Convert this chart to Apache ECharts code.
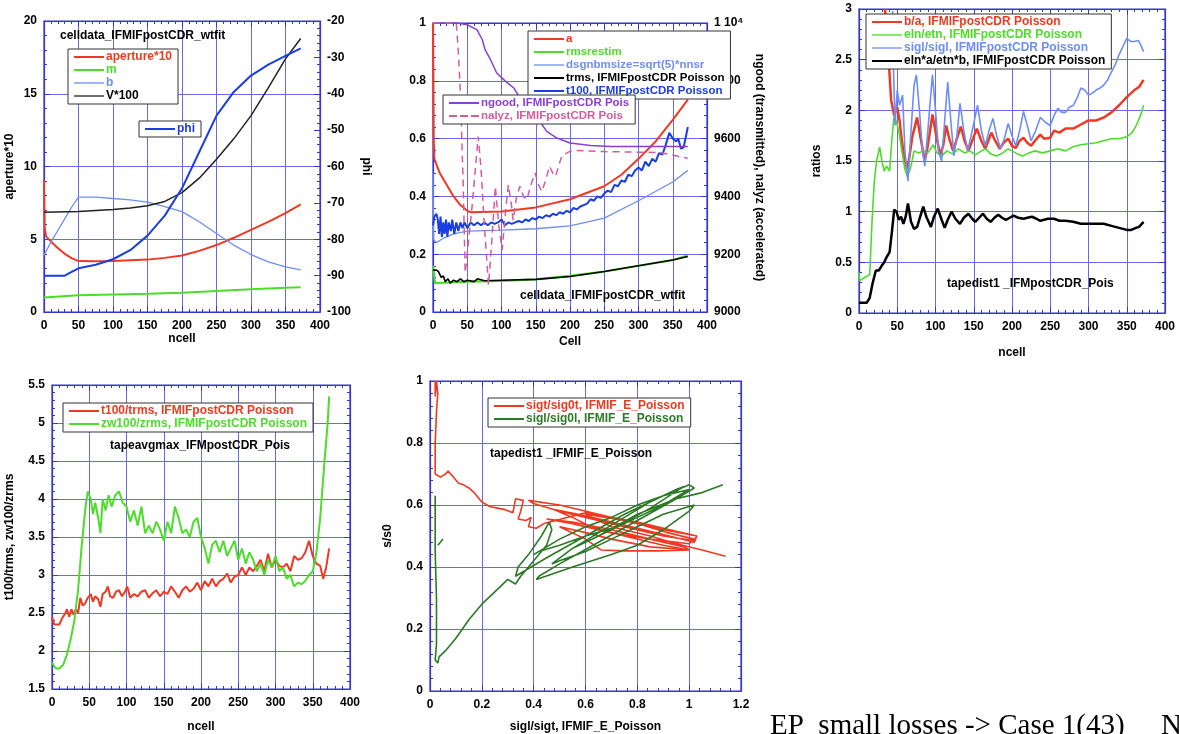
<!DOCTYPE html>
<html><head><meta charset="utf-8">
<script src="https://cdn.jsdelivr.net/npm/echarts@6/dist/echarts.min.js"></script>
<style>html,body{margin:0;padding:0;background:#fff}#c{width:1179px;height:734px}</style>
</head><body><div id="c"></div>
<script>
// ---------- Panel 1: celldata ----------
const p1Aperture = [[0,9.1],[1,5.8],[3,5.2],[10,4.85],[20,4.4],[30,4.0],[40,3.7],[50,3.5],[75,3.48],[100,3.5],[125,3.55],[150,3.6],[175,3.72],[200,3.88],[225,4.2],[250,4.6],[275,5.1],[300,5.65],[325,6.2],[350,6.8],[372,7.4]];
const p1M = [[0,1.0],[50,1.15],[100,1.2],[150,1.25],[200,1.32],[250,1.45],[300,1.57],[350,1.66],[372,1.7]];
const p1B = [[0,3.9],[10,4.8],[20,5.6],[30,6.4],[40,7.2],[50,7.9],[75,7.9],[100,7.8],[125,7.7],[150,7.55],[175,7.25],[200,6.9],[225,6.2],[250,5.4],[275,4.6],[300,3.95],[325,3.45],[350,3.1],[372,2.9]];
const p1V = [[0,6.85],[50,6.9],[100,7.05],[125,7.15],[150,7.3],[175,7.6],[200,8.2],[225,9.2],[250,10.5],[275,11.9],[300,13.5],[325,15.4],[350,17.4],[372,18.8]];
const p1Phi = [[0,-90],[30,-90],[40,-89],[50,-88],[75,-87],[100,-85.5],[125,-83],[150,-79],[175,-73.5],[200,-66],[225,-56],[250,-46],[275,-39.5],[300,-35],[325,-32],[350,-29.6],[372,-27.5]];

// ---------- Panel 2: celldata (Cell) ----------
const p2A = [[0,1.0],[1,0.6],[2,0.53],[10,0.48],[20,0.44],[30,0.40],[40,0.37],[50,0.35],[55,0.345],[100,0.348],[150,0.362],[200,0.39],[250,0.435],[275,0.475],[300,0.53],[325,0.59],[350,0.665],[372,0.735]];
const p2Rms = [[0,0.16],[3,0.1],[25,0.102],[50,0.105],[100,0.108],[150,0.113],[200,0.125],[250,0.14],[300,0.16],[350,0.18],[372,0.195]];
const p2Dsgn = [[0,0.48],[1,0.25],[5,0.24],[15,0.255],[30,0.27],[50,0.28],[100,0.283],[150,0.288],[200,0.298],[250,0.325],[300,0.385],[350,0.45],[372,0.49]];
const p2Trms = [[0,0.145],[5,0.145],[8,0.14],[12,0.12],[15,0.125],[18,0.105],[22,0.115],[25,0.1],[30,0.11],[35,0.105],[40,0.115],[45,0.105],[50,0.11],[60,0.105],[65,0.115],[75,0.108],[100,0.11],[150,0.113],[200,0.123],[250,0.14],[300,0.16],[350,0.18],[372,0.192]];
const p2T100 = [[0,0.3],[2,0.33],[5,0.34],[7,0.32],[9,0.27],[11,0.33],[13,0.26],[15,0.31],[17,0.27],[19,0.32],[21,0.26],[23,0.31],[26,0.28],[28,0.32],[31,0.27],[34,0.31],[37,0.28],[40,0.31],[43,0.29],[46,0.31],[50,0.29],[55,0.31],[60,0.3],[65,0.31],[70,0.3],[75,0.31],[80,0.3],[85,0.31],[90,0.305],[95,0.31],[100,0.32],[105,0.3],[110,0.31],[115,0.305],[120,0.31],[125,0.315],[130,0.31],[135,0.32],[140,0.315],[145,0.325],[150,0.32],[155,0.33],[160,0.325],[165,0.335],[170,0.33],[175,0.34],[180,0.335],[185,0.345],[190,0.34],[195,0.35],[200,0.345],[205,0.36],[210,0.355],[215,0.365],[220,0.37],[225,0.375],[230,0.39],[235,0.385],[240,0.4],[245,0.395],[250,0.41],[255,0.42],[260,0.415],[265,0.44],[270,0.435],[275,0.455],[280,0.45],[285,0.475],[290,0.47],[295,0.49],[300,0.5],[305,0.49],[310,0.52],[315,0.505],[320,0.53],[325,0.52],[330,0.55],[335,0.545],[340,0.58],[345,0.62],[350,0.6],[355,0.59],[358,0.6],[362,0.565],[366,0.57],[372,0.64]];
const p2Ngood = [[0,10000],[35,10000],[50,9994],[64,9977],[72,9942],[76,9908],[84,9873],[93,9827],[106,9798],[118,9775],[124,9752],[130,9735],[150,9680],[166,9625],[181,9602],[200,9585],[230,9576],[260,9573],[372,9573]];
const p2Nalyz = [[0,10000],[34,10000],[37,9900],[40,9760],[44,9450],[47,9135],[52,9250],[57,9364],[62,9500],[66,9607],[70,9500],[75,9300],[81,9093],[86,9250],[91,9434],[96,9300],[101,9215],[106,9350],[110,9440],[114,9380],[117,9318],[122,9400],[127,9435],[132,9400],[137,9389],[143,9440],[149,9481],[154,9440],[159,9417],[165,9460],[170,9504],[175,9480],[179,9469],[184,9510],[188,9539],[195,9550],[200,9556],[210,9559],[250,9555],[300,9553],[330,9552],[350,9543],[372,9532]];

// ---------- Panel 3: ratios ----------
const p3BA = [[34,3.0],[38,2.6],[42,2.1],[46,1.95],[50,2.03],[53,1.9],[56,1.7],[60,1.5],[63,1.42],[66,1.55],[70,1.75],[76,1.93],[80,1.75],[86,1.5],[90,1.65],[96,1.96],[101,1.75],[106,1.56],[110,1.65],[114,1.85],[118,1.72],[123,1.6],[128,1.72],[133,1.84],[138,1.7],[143,1.6],[148,1.7],[154,1.82],[160,1.7],[165,1.62],[169,1.7],[173,1.78],[178,1.7],[184,1.62],[189,1.68],[195,1.72],[200,1.65],[205,1.63],[210,1.7],[215,1.73],[220,1.68],[225,1.65],[230,1.7],[237,1.76],[242,1.72],[250,1.73],[255,1.8],[262,1.78],[270,1.82],[280,1.82],[290,1.86],[300,1.9],[310,1.9],[320,1.93],[330,1.98],[340,2.05],[350,2.13],[360,2.2],[366,2.23],[372,2.3]];
const p3Eln = [[0,0.4],[1,0.32],[5,0.34],[10,0.36],[14,0.38],[17,0.9],[20,1.3],[23,1.5],[27,1.64],[30,1.5],[33,1.4],[36,1.45],[40,1.4],[43,1.72],[46,1.95],[49,1.88],[52,1.8],[56,1.6],[60,1.42],[63,1.35],[67,1.42],[72,1.6],[78,1.58],[85,1.6],[90,1.58],[97,1.66],[102,1.58],[108,1.55],[115,1.6],[122,1.57],[130,1.62],[138,1.58],[145,1.6],[152,1.56],[160,1.6],[166,1.62],[172,1.57],[180,1.55],[188,1.58],[195,1.62],[200,1.6],[207,1.57],[214,1.55],[222,1.58],[230,1.6],[240,1.58],[250,1.6],[260,1.62],[270,1.6],[280,1.64],[290,1.66],[300,1.67],[310,1.68],[320,1.7],[330,1.72],[340,1.72],[350,1.74],[357,1.78],[363,1.86],[368,1.95],[372,2.05]];
const p3Sigl = [[44,2.98],[45,2.45],[47,1.85],[50,2.2],[53,2.05],[57,2.15],[60,1.6],[64,1.3],[68,1.8],[72,2.25],[75,2.35],[79,2.0],[83,1.6],[86,1.45],[90,1.8],[96,2.35],[100,2.0],[104,1.6],[108,1.5],[112,1.9],[116,2.28],[120,1.9],[124,1.55],[128,1.75],[132,2.07],[137,1.8],[142,1.6],[148,1.8],[155,2.05],[160,1.8],[165,1.65],[170,1.8],[175,1.92],[180,1.75],[185,1.62],[190,1.72],[195,1.87],[200,1.75],[205,1.65],[210,1.8],[215,1.99],[220,1.85],[225,1.7],[231,1.8],[237,1.93],[244,1.88],[250,1.85],[255,1.95],[260,2.02],[265,1.98],[270,1.98],[275,2.03],[280,2.05],[285,2.12],[290,2.22],[295,2.2],[300,2.15],[305,2.17],[310,2.2],[315,2.22],[320,2.25],[325,2.3],[330,2.38],[335,2.45],[340,2.55],[345,2.63],[350,2.71],[355,2.68],[360,2.68],[365,2.69],[368,2.65],[372,2.58]];
const p3Prod = [[0,0.1],[5,0.1],[10,0.1],[14,0.15],[18,0.3],[22,0.42],[26,0.42],[30,0.47],[33,0.5],[36,0.55],[40,0.6],[43,0.8],[46,1.02],[49,1.0],[52,0.92],[55,0.95],[58,0.88],[61,0.95],[64,1.08],[68,0.9],[72,0.83],[76,0.85],[80,0.95],[84,1.05],[88,0.95],[94,0.85],[98,0.95],[103,1.03],[108,0.92],[112,0.84],[116,0.92],[121,1.0],[126,0.93],[132,0.88],[137,0.94],[143,0.98],[148,0.93],[152,0.9],[157,0.94],[162,0.98],[167,0.93],[172,0.9],[177,0.94],[182,0.97],[187,0.94],[192,0.92],[197,0.94],[202,0.96],[208,0.94],[215,0.93],[220,0.94],[226,0.95],[232,0.93],[237,0.91],[242,0.92],[247,0.93],[255,0.93],[262,0.91],[270,0.91],[280,0.9],[290,0.88],[300,0.88],[310,0.88],[320,0.88],[330,0.86],[340,0.84],[350,0.82],[356,0.82],[362,0.84],[366,0.85],[372,0.9]];

// ---------- Panel 4: tapeavgmax ----------
const p4T100 = [[0,2.45],[3,2.35],[6,2.35],[10,2.35],[13,2.42],[15,2.4],[18,2.5],[20,2.55],[23,2.45],[26,2.55],[29,2.48],[32,2.55],[35,2.5],[38,2.7],[41,2.6],[44,2.62],[48,2.7],[52,2.75],[55,2.65],[58,2.72],[62,2.68],[65,2.58],[68,2.75],[72,2.78],[75,2.85],[78,2.72],[82,2.7],[86,2.78],[90,2.8],[94,2.72],[98,2.78],[101,2.85],[105,2.7],[110,2.75],[115,2.72],[120,2.78],[125,2.8],[130,2.7],[135,2.76],[140,2.8],[145,2.72],[150,2.78],[155,2.75],[160,2.85],[165,2.78],[170,2.7],[175,2.8],[180,2.85],[185,2.78],[190,2.82],[195,2.9],[200,2.8],[205,2.92],[210,2.85],[215,2.95],[220,2.85],[225,2.92],[230,2.95],[235,3.02],[240,2.9],[245,2.98],[250,3.0],[255,3.1],[260,3.0],[265,3.1],[270,3.05],[275,3.12],[280,3.2],[285,3.05],[290,3.28],[295,3.1],[300,3.2],[305,3.12],[310,3.1],[315,3.15],[320,3.05],[325,3.25],[330,3.2],[335,3.22],[340,3.3],[345,3.45],[350,3.25],[355,3.15],[360,3.12],[364,2.95],[368,3.1],[372,3.35]];
const p4Zw = [[0,1.85],[5,1.77],[10,1.77],[15,1.82],[20,1.95],[25,2.15],[30,2.4],[35,2.8],[40,3.4],[45,3.9],[48,4.1],[52,4.0],[55,3.8],[58,3.95],[62,3.75],[65,3.55],[68,4.0],[72,3.85],[76,4.05],[80,3.9],[85,4.05],[90,4.1],[95,3.95],[100,3.9],[105,3.7],[110,3.85],[115,3.65],[120,3.9],[125,3.55],[130,3.65],[135,3.55],[140,3.7],[145,3.6],[150,3.45],[155,3.7],[160,3.55],[165,3.9],[170,3.75],[175,3.55],[180,3.6],[185,3.5],[190,3.7],[195,3.75],[200,3.5],[205,3.35],[210,3.15],[215,3.4],[220,3.45],[225,3.3],[230,3.45],[235,3.25],[240,3.35],[245,3.45],[250,3.2],[255,3.35],[260,3.15],[265,3.3],[270,3.2],[275,3.05],[280,3.15],[285,3.0],[290,3.2],[295,3.1],[300,3.25],[305,3.05],[310,3.1],[315,2.95],[320,3.0],[325,2.85],[330,2.9],[335,2.88],[340,2.92],[345,3.0],[350,3.05],[355,3.3],[360,3.75],[365,4.4],[370,5.0],[372,5.35]];

// ---------- Panel 5: tapedist1 IFMIF_E ----------
const p5Sigt = [[0.02,1.0],[0.02,0.95],[0.025,1.0],[0.03,0.96],[0.025,0.9],[0.02,0.8],[0.02,0.7],[0.04,0.69],[0.06,0.7],[0.07,0.71],[0.09,0.69],[0.11,0.67],[0.13,0.665],[0.15,0.655],[0.17,0.64],[0.2,0.61],[0.23,0.595],[0.26,0.59],[0.29,0.585],[0.32,0.575],
  [0.33,0.62],[0.36,0.615],[0.35,0.58],[0.34,0.555],[0.37,0.55],[0.39,0.56],[0.38,0.53],[0.41,0.525],[0.44,0.54],
  [0.6,0.575],[0.8,0.545],[0.95,0.515],[1.03,0.5],[1.02,0.485],[0.9,0.5],
  [0.7,0.54],[0.5,0.58],[0.4,0.605],[0.38,0.615],
  [0.5,0.6],[0.65,0.57],[0.8,0.54],[0.92,0.51],[1.02,0.49],[1.0,0.475],
  [0.85,0.49],[0.7,0.51],[0.55,0.54],[0.45,0.555],
  [0.55,0.545],[0.7,0.52],[0.85,0.49],[0.98,0.465],[1.0,0.455],
  [0.85,0.465],[0.7,0.49],[0.58,0.515],[0.5,0.53],
  [0.6,0.49],[0.66,0.455],[0.75,0.452],[0.88,0.452],[1.0,0.455],
  [0.9,0.47],[0.75,0.5],[0.62,0.53],[0.55,0.56],[0.48,0.585],
  [0.6,0.565],[0.75,0.535],[0.9,0.505],[1.02,0.48],[1.03,0.5],
  [0.9,0.52],[0.75,0.55],[0.6,0.57],
  [0.7,0.53],[0.85,0.5],[0.95,0.475],[1.05,0.455],[1.14,0.435]];
const p5Sigl = [[0.02,0.63],[0.02,0.45],[0.025,0.3],[0.025,0.15],[0.02,0.1],[0.03,0.09],[0.035,0.11],[0.06,0.13],[0.1,0.17],[0.15,0.23],[0.2,0.28],[0.25,0.32],
  [0.3,0.36],[0.32,0.35],[0.33,0.345],[0.35,0.37],[0.4,0.42],[0.45,0.47],[0.47,0.52],[0.46,0.545],[0.43,0.5],[0.38,0.44],[0.34,0.4],[0.33,0.37],
  [0.45,0.43],[0.6,0.5],[0.75,0.57],[0.9,0.63],[1.0,0.665],[1.02,0.655],[0.95,0.62],
  [0.8,0.55],[0.65,0.48],[0.5,0.41],[0.42,0.37],[0.41,0.36],
  [0.55,0.4],[0.7,0.44],[0.8,0.47],[0.9,0.52],[1.0,0.58],[1.02,0.6],
  [0.9,0.57],[0.8,0.53],[0.7,0.49],[0.6,0.45],[0.5,0.42],[0.47,0.41],
  [0.55,0.46],[0.65,0.51],[0.75,0.56],[0.85,0.61],[0.95,0.65],[0.98,0.66],
  [0.85,0.59],[0.72,0.53],[0.6,0.5],[0.5,0.47],[0.42,0.45],[0.4,0.44],
  [0.5,0.49],[0.6,0.53],[0.7,0.56],[0.8,0.6],[0.9,0.63],[1.0,0.65],
  [0.9,0.6],[0.8,0.56],[0.7,0.52],[0.6,0.48],[0.55,0.46],
  [0.65,0.5],[0.8,0.57],[0.95,0.62],[1.05,0.64],[1.13,0.665]];
const p5SiglStub = [[0.03,0.47],[0.04,0.48],[0.05,0.49]];

// ---------- labels ----------
const titles = ['celldata_IFMIFpostCDR_wtfit','celldata_IFMIFpostCDR_wtfit','tapedist1 _IFMpostCDR_Pois','tapeavgmax_IFMpostCDR_Pois','tapedist1 _IFMIF_E_Poisson'];
const footText = 'EP  small losses -> Case 1(43)     N';

const FONT = 'Liberation Sans';
const BLUE_FRAME = '#3535d0';
const GRIDC = '#6a6ae8';
const C = {red:'#ee3a22', green:'#4ddc2a', lblue:'#6e8ef2', black:'#000', blue:'#1a3ee0', purple:'#8b3fd0', pink:'#d45c9c', dgreen:'#2c7a26'};
const ICON_LINE = 'path://M0,0h30v2h-30z';
const ICON_THIN = 'path://M0,0h30v1.3h-30z';
const ICON_DASH = 'path://M0,0h8v2h-8zM11,0h8v2h-8zM22,0h8v2h-8z';

const tickStyle = {axisTick:{show:true, inside:true, length:6, lineStyle:{color:BLUE_FRAME}},
                   minorTick:{show:true, splitNumber:5, length:3, lineStyle:{color:BLUE_FRAME}}};
function xAx(gi, min, max, interval, name, gap) {
  return Object.assign({type:'value', gridIndex:gi, min, max, interval, name, nameLocation:'middle', nameGap:gap,
    nameTextStyle:{fontFamily:FONT, fontWeight:'bold', fontSize:12, color:'#000'},
    axisLine:{show:true, onZero:false, lineStyle:{color:BLUE_FRAME, width:1.2}},
    axisLabel:{fontFamily:FONT, fontWeight:'bold', fontSize:12, color:'#000', margin:8},
    splitLine:{show:true, lineStyle:{color:GRIDC, width:1}}}, tickStyle);
}
function xTop(gi, min, max, interval) {
  return Object.assign({type:'value', gridIndex:gi, min, max, interval, position:'top',
    axisLine:{show:true, onZero:false, lineStyle:{color:BLUE_FRAME, width:1.2}},
    axisLabel:{show:false}, splitLine:{show:false}}, tickStyle);
}
function yAx(gi, min, max, interval, name, gap, pos, rot, split, fmt) {
  return Object.assign({type:'value', gridIndex:gi, min, max, interval, name, position:pos, nameLocation:'middle', nameGap:gap, nameRotate:rot,
    nameTextStyle:{fontFamily:FONT, fontWeight:'bold', fontSize:12, color:'#000'},
    axisLine:{show:true, onZero:false, lineStyle:{color:BLUE_FRAME, width:1.2}},
    axisLabel:{fontFamily:FONT, fontWeight:'bold', fontSize:12, color:'#000', margin:7, formatter:fmt},
    splitLine:{show:split, lineStyle:{color:GRIDC, width:1}}}, tickStyle);
}
function yRight(gi, min, max, interval) {
  return Object.assign({type:'value', gridIndex:gi, min, max, interval, position:'right',
    axisLine:{show:true, onZero:false, lineStyle:{color:BLUE_FRAME, width:1.2}},
    axisLabel:{show:false}, splitLine:{show:false}}, tickStyle);
}
function ln(name, data, xi, yi, color, width, dashed) {
  return {name, type:'line', data, xAxisIndex:xi, yAxisIndex:yi, symbol:'none', showSymbol:false, animation:false,
    lineStyle:{color, width, type: dashed ? [7,5] : 'solid'}, itemStyle:{color}, silent:true};
}
function lg(left, top, items, fs) {
  return {left, top, orient:'vertical', itemGap:1, itemWidth:30, itemHeight:10, padding:[2,6,2,6],
    borderColor:'#333', borderWidth:1, backgroundColor:'#fff', selectedMode:false, symbolKeepAspect:true,
    textStyle:{fontFamily:FONT, fontWeight:'bold', fontSize:fs, padding:[0,0,0,-3]},
    data: items.map(([n,c,ic]) => ({name:n, icon: ic || ICON_LINE, textStyle:{color:c}}))};
}
function ttl(x, y, t) {
  return {type:'text', left:x, top:y, z:5, style:{text:t, fill:'#000', font:'bold 12px "'+FONT+'"'}};
}

const chart = echarts.init(document.getElementById('c'), null, {renderer:'canvas'});
chart.setOption({
  animation:false,
  backgroundColor:'#fff',
  grid:[
    {left:44, top:21, width:276, height:291, show:true, borderColor:BLUE_FRAME, borderWidth:1.2},
    {left:433, top:23, width:274, height:289, show:true, borderColor:BLUE_FRAME, borderWidth:1.2},
    {left:859, top:9, width:306, height:304, show:true, borderColor:BLUE_FRAME, borderWidth:1.2},
    {left:52, top:385, width:298, height:304, show:true, borderColor:BLUE_FRAME, borderWidth:1.2},
    {left:430, top:381, width:311, height:310, show:true, borderColor:BLUE_FRAME, borderWidth:1.2}
  ],
  xAxis:[
    xAx(0,0,400,50,'ncell',20),
    xAx(1,0,400,50,'Cell',24),
    xAx(2,0,400,50,'ncell',34),
    xAx(3,0,400,50,'ncell',32),
    xAx(4,0,1.2,0.2,'sigl/sigt, IFMIF_E_Poisson',30),
    xTop(0,0,400,50), xTop(1,0,400,50), xTop(2,0,400,50), xTop(3,0,400,50), xTop(4,0,1.2,0.2)
  ],
  yAxis:[
    yAx(0,0,20,5,'aperture*10',28,'left',90,true),
    yAx(0,-100,-20,10,'phi',40,'right',-90,false),
    yAx(1,0,1,0.2,'',30,'left',90,true),
    yAx(1,9000,10000,200,'ngood (transmitted), nalyz (accelerated)',46,'right',-90,false, v => v===10000 ? '1 10⁴' : String(v)),
    yAx(2,0,3,0.5,'ratios',36,'left',90,true),
    yAx(3,1.5,5.5,0.5,'t100/trms, zw100/zrms',36,'left',90,true),
    yAx(4,0,1,0.2,'s/s0',36,'left',90,true),
    yRight(2,0,3,0.5), yRight(3,1.5,5.5,0.5), yRight(4,0,1,0.2)
  ],
  legend:[
    lg(68,49,[['aperture*10',C.red],['m',C.green],['b',C.lblue,ICON_THIN],['V*100','#000',ICON_THIN]],12),
    lg(139,121,[['phi',C.blue]],12),
    lg(528,31,[['a',C.red],['rmsrestim',C.green],['dsgnbmsize=sqrt(5)*nnsr',C.lblue,ICON_THIN],['trms, IFMIFpostCDR Poisson','#000'],['t100, IFMIFpostCDR Poisson',C.blue]],11.5),
    lg(443,95,[['ngood, IFMIFpostCDR Pois',C.purple],['nalyz, IFMIFpostCDR Pois',C.pink,ICON_DASH]],11.5),
    lg(866,14,[['b/a, IFMIFpostCDR Poisson',C.red],['eln/etn, IFMIFpostCDR Poisson',C.green,ICON_THIN],['sigl/sigl, IFMIFpostCDR Poisson',C.lblue,ICON_THIN],['eln*a/etn*b, IFMIFpostCDR Poisson','#000']],12),
    lg(63,403,[['t100/trms, IFMIFpostCDR Poisson',C.red],['zw100/zrms, IFMIFpostCDR Poisson',C.green]],12),
    lg(488,398,[['sigt/sig0t, IFMIF_E_Poisson',C.red],['sigl/sig0l, IFMIF_E_Poisson',C.dgreen]],12)
  ],
  series:[
    ln('aperture*10',p1Aperture,0,0,C.red,2),
    ln('m',p1M,0,0,C.green,2),
    ln('b',p1B,0,0,C.lblue,1.3),
    ln('V*100',p1V,0,0,'#222',1.5),
    ln('phi',p1Phi,0,1,C.blue,2),
    ln('a',p2A,1,2,C.red,2),
    ln('rmsrestim',p2Rms,1,2,C.green,2.2),
    ln('dsgnbmsize=sqrt(5)*nnsr',p2Dsgn,1,2,C.lblue,1.3),
    ln('trms, IFMIFpostCDR Poisson',p2Trms,1,2,'#000',1.6),
    ln('t100, IFMIFpostCDR Poisson',p2T100,1,2,C.blue,2),
    ln('ngood, IFMIFpostCDR Pois',p2Ngood,1,3,C.purple,1.5),
    ln('nalyz, IFMIFpostCDR Pois',p2Nalyz,1,3,C.pink,1.5,true),
    ln('b/a, IFMIFpostCDR Poisson',p3BA,2,4,C.red,2.5),
    ln('eln/etn, IFMIFpostCDR Poisson',p3Eln,2,4,C.green,1.6),
    ln('sigl/sigl, IFMIFpostCDR Poisson',p3Sigl,2,4,C.lblue,1.6),
    ln('eln*a/etn*b, IFMIFpostCDR Poisson',p3Prod,2,4,'#000',2.5),
    ln('t100/trms, IFMIFpostCDR Poisson',p4T100,3,5,C.red,2),
    ln('zw100/zrms, IFMIFpostCDR Poisson',p4Zw,3,5,C.green,2),
    ln('sigt/sig0t, IFMIF_E_Poisson',p5Sigt,4,6,C.red,1.6),
    ln('sigl/sig0l, IFMIF_E_Poisson',p5Sigl,4,6,C.dgreen,1.6),
    ln('sigl stub',p5SiglStub,4,6,C.dgreen,1.6)
  ],
  graphic:[
    ttl(60,30,titles[0]),
    ttl(520,290,titles[1]),
    ttl(947,278,titles[2]),
    ttl(110,440,titles[3]),
    ttl(490,448,titles[4]),
    {type:'text', left:770, top:712, style:{text:footText, fill:'#000', font:'29px "Liberation Serif"'}}
  ]
});
</script></body></html>
